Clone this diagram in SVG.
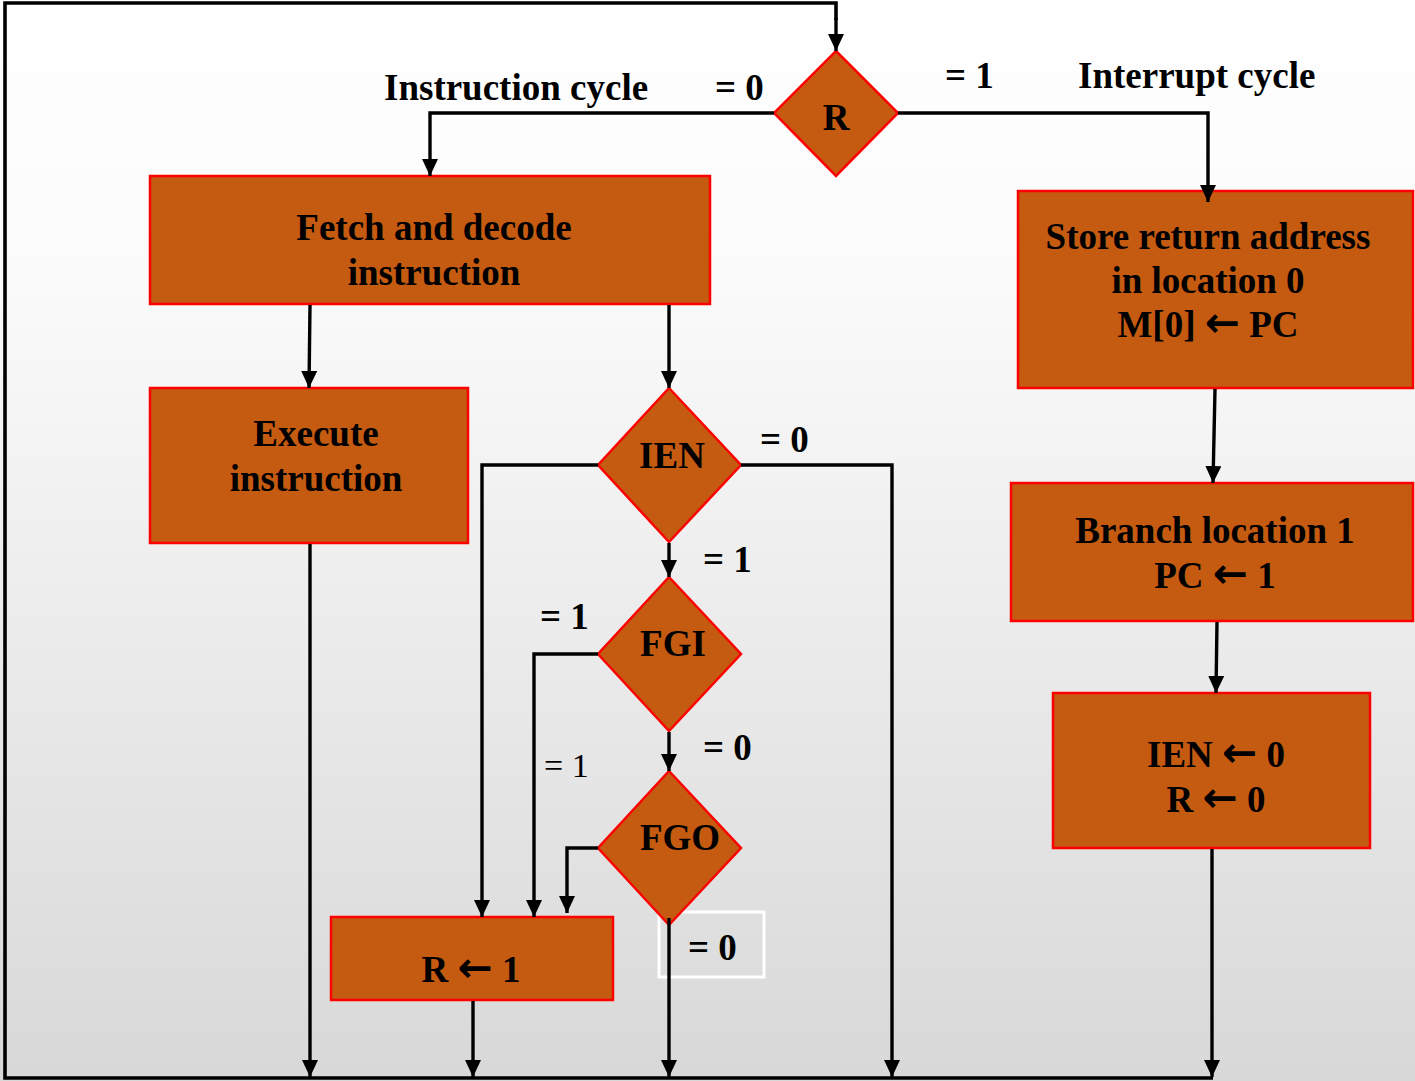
<svg xmlns="http://www.w3.org/2000/svg" width="1415" height="1081" viewBox="0 0 1415 1081">
  <defs>
    <linearGradient id="bg" x1="0" y1="0" x2="0" y2="1">
      <stop offset="0" stop-color="#ffffff"/>
      <stop offset="0.25" stop-color="#fbfbfb"/>
      <stop offset="1" stop-color="#d8d8d8"/>
    </linearGradient>
    <marker id="arrow" markerUnits="userSpaceOnUse" markerWidth="18" markerHeight="18" refX="17" refY="8" orient="auto">
      <path d="M0,0 L17,8 L0,16 Z" fill="#000"/>
    </marker>
    <style>
      .box { fill: #c55a11; stroke: #ff0000; stroke-width: 2.5; }
      .wire { fill: none; stroke: #000; stroke-width: 3.4; marker-end: url(#arrow); }
      .frame { fill: none; stroke: #000; stroke-width: 3.6; }
      text { font-family: "Liberation Serif", "Times New Roman", serif; font-weight: bold; font-size: 37px; fill: #000; }
      .mid { text-anchor: middle; }
      .thin { font-weight: normal; font-size: 34px; }
      .arr { font-family: "DejaVu Sans", sans-serif; font-weight: bold; font-size: 42px; }
    </style>
  </defs>

  <rect x="0" y="0" width="1415" height="1081" fill="url(#bg)"/>

  <!-- branch labels -->
  <g id="labels">
    <text x="384" y="100">Instruction cycle</text>
    <text x="715" y="100">= 0</text>
    <text x="945" y="88">= 1</text>
    <text x="1078" y="88">Interrupt cycle</text>
    <text x="760" y="452">= 0</text>
    <text x="703" y="572">= 1</text>
    <text x="540" y="629">= 1</text>
    <text class="thin" x="544" y="777">= 1</text>
    <text x="703" y="760">= 0</text>
    <rect x="659" y="912" width="105" height="65" fill="none" stroke="#ffffff" stroke-width="3"/>
    <text x="688" y="960">= 0</text>
  </g>

  <g id="node-r">
    <polygon class="box" points="836,51 898,113 836,176 774,113"/>
    <text class="mid" x="836" y="130">R</text>
  </g>

  <g id="node-fetch">
    <rect class="box" x="150" y="176" width="560" height="128"/>
    <text class="mid" x="434" y="240">Fetch and decode</text>
    <text class="mid" x="434" y="285">instruction</text>
  </g>

  <g id="node-execute">
    <rect class="box" x="150" y="388" width="318" height="155"/>
    <text class="mid" x="316" y="446">Execute</text>
    <text class="mid" x="316" y="491">instruction</text>
  </g>

  <g id="node-ien">
    <polygon class="box" points="669,388 741,465 669,542 598,465"/>
    <text class="mid" x="672" y="468">IEN</text>
  </g>

  <g id="node-fgi">
    <polygon class="box" points="669,577 741,654 669,731 598,654"/>
    <text class="mid" x="673" y="656">FGI</text>
  </g>

  <g id="node-fgo">
    <polygon class="box" points="669,771 741,848 669,925 598,848"/>
    <text class="mid" x="680" y="850">FGO</text>
  </g>

  <g id="node-set-r">
    <rect class="box" x="331" y="917" width="282" height="83"/>
    <text class="mid" x="471" y="982">R <tspan class="arr">←</tspan> 1</text>
  </g>

  <g id="node-store">
    <rect class="box" x="1018" y="191" width="395" height="197"/>
    <text class="mid" x="1208" y="249">Store return address</text>
    <text class="mid" x="1208" y="293">in location 0</text>
    <text class="mid" x="1208" y="337">M[0] <tspan class="arr">←</tspan> PC</text>
  </g>

  <g id="node-branch">
    <rect class="box" x="1011" y="483" width="402" height="138"/>
    <text class="mid" x="1215" y="543">Branch location 1</text>
    <text class="mid" x="1215" y="588">PC <tspan class="arr">←</tspan> 1</text>
  </g>

  <g id="node-clear">
    <rect class="box" x="1053" y="693" width="317" height="155"/>
    <text class="mid" x="1216" y="767">IEN <tspan class="arr">←</tspan> 0</text>
    <text class="mid" x="1216" y="812">R <tspan class="arr">←</tspan> 0</text>
  </g>

  <!-- connectors, drawn last so arrowheads sit on top of the boxes -->
  <g id="connectors">
    <path class="frame" d="M1213,1078 L5,1078 L5,3 L836,3 L836,20"/>
    <path class="wire" d="M836,18 L836,51"/>
    <path class="wire" d="M774,113 L430,113 L430,176"/>
    <path class="wire" d="M898,113 L1208,113 L1208,202"/>
    <path class="wire" d="M310,305 L309,388"/>
    <path class="wire" d="M669,305 L669,388"/>
    <path class="wire" d="M310,544 L310,1077"/>
    <path class="wire" d="M598,465 L482,465 L482,917"/>
    <path class="wire" d="M741,465 L892,465 L892,1077"/>
    <path class="wire" d="M669,543 L669,577"/>
    <path class="wire" d="M598,654 L534,654 L534,917"/>
    <path class="wire" d="M669,732 L669,771"/>
    <path class="wire" d="M598,848 L567,848 L567,913"/>
    <path class="wire" d="M669,918 L669,1077"/>
    <path class="wire" d="M473,1001 L473,1077"/>
    <path class="wire" d="M1215,389 L1213,483"/>
    <path class="wire" d="M1217,622 L1216,693"/>
    <path class="wire" d="M1212,849 L1212,1077"/>
  </g>
</svg>
